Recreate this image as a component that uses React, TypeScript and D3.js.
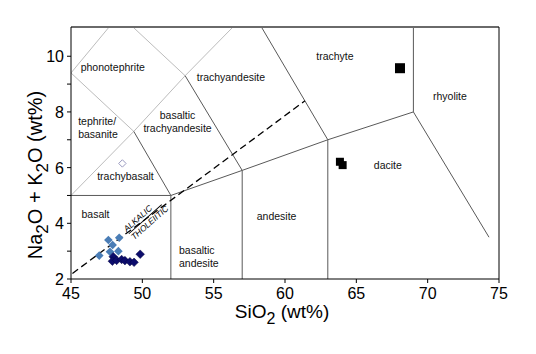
import React from "react";
import * as d3 from "d3";

// TAS field boundaries, [SiO2, Na2O+K2O]
const lightBoundaries: [number, number][][] = [
  [[45, 5], [49.4, 7.3], [53, 9.3], [57.6, 11.7]],
  [[45, 9.4], [49.4, 7.3]],
  [[45, 9.4], [48.4, 11.5]],
  [[48.4, 11.5], [53, 9.3]],
];
const darkBoundaries: [number, number][][] = [
  [[45, 5], [52, 5], [57, 5.9], [63, 7], [69, 8]],
  [[52, 2], [52, 5]],
  [[57, 2], [57, 5.9]],
  [[63, 2], [63, 7]],
  [[49.4, 7.3], [52, 5]],
  [[53, 9.3], [57, 5.9]],
  [[57.6, 11.7], [63, 7]],
  [[69, 8], [69, 12]],
  [[69, 8], [74.3, 3.5]],
];
const alkalicLine: [number, number][] = [[45.1, 2.2], [61.4, 8.4]];

// field names, placed at the centre of their first line
const fieldNames = ["phonotephrite", "tephrite/\nbasanite", "basaltic\ntrachyandesite", "trachyandesite", "trachybasalt", "trachyte", "rhyolite", "dacite", "basalt", "basaltic\nandesite", "andesite"];
const fieldSiO2 = [47.93, 45.5, 52.47, 56.21, 48.82, 63.5, 71.56, 67.21, 46.72, 52.57, 59.41];
const fieldAlk = [9.6, 7.65, 7.89, 9.26, 5.67, 9.98, 8.57, 6.09, 4.33, 3.04, 4.24];
const fieldAnchor = ["middle", "start", "middle", "middle", "middle", "middle", "middle", "middle", "middle", "start", "middle"];

// samples
const lightBlueSiO2 = [47.62, 48.38, 47.92, 46.98, 47.73, 48.32];
const lightBlueAlk = [3.4, 3.48, 3.22, 2.84, 2.98, 3.0];
const navySiO2 = [49.85, 47.96, 47.9, 48.2, 48.55, 48.78, 49.13, 49.42];
const navyAlk = [2.89, 2.8, 2.64, 2.67, 2.7, 2.66, 2.62, 2.6];
const openSiO2 = [48.6];
const openAlk = [6.15];
const squareSiO2 = [68.06, 63.85, 64.04];
const squareAlk = [9.57, 6.21, 6.09];
const squareSize = [10, 8, 8];

const xTicks = [45, 50, 55, 60, 65, 70, 75];
const yTicks = [2, 4, 6, 8, 10];
const yMinorTicks = [3, 5, 7, 9];

const W = 536;
const H = 354;
const font = "'Liberation Sans', Arial, sans-serif";

export default function App() {
  const x = d3.scaleLinear().domain([45, 75]).range([71, 499]);
  const y = d3.scaleLinear().domain([2, 11.05]).range([279, 27]);
  const line = d3.line<[number, number]>().x((d) => x(d[0])).y((d) => y(d[1]));

  const diamond = (cx: number, cy: number, r: number) =>
    `M${cx},${cy - r}L${cx + r},${cy}L${cx},${cy + r}L${cx - r},${cy}Z`;

  // label on the alkalic/tholeiitic divider
  const p0 = [x(alkalicLine[0][0]), y(alkalicLine[0][1])];
  const p1 = [x(alkalicLine[1][0]), y(alkalicLine[1][1])];
  const angle = (Math.atan2(p1[1] - p0[1], p1[0] - p0[0]) * 180) / Math.PI;
  const t = (50.1 - alkalicLine[0][0]) / (alkalicLine[1][0] - alkalicLine[0][0]);
  const ax = p0[0] + t * (p1[0] - p0[0]);
  const ay = p0[1] + t * (p1[1] - p0[1]);

  return (
    <svg width={W} height={H} style={{ position: "absolute", left: 0, top: 0, background: "#fff" }} fontFamily={font}>
      <defs>
        <clipPath id="plot">
          <rect x={x(45)} y={y(11.05)} width={x(75) - x(45)} height={y(2) - y(11.05)} />
        </clipPath>
      </defs>

      <g clipPath="url(#plot)" fill="none">
        {lightBoundaries.map((b, i) => (
          <path key={"l" + i} d={line(b) || ""} stroke="#bcbcbc" strokeWidth={1} />
        ))}
        {darkBoundaries.map((b, i) => (
          <path key={"d" + i} d={line(b) || ""} stroke="#595959" strokeWidth={1} />
        ))}
        <path d={line(alkalicLine) || ""} stroke="#000" strokeWidth={1.3} strokeDasharray="7,4" />
      </g>

      {/* frame */}
      <line x1={x(45)} x2={x(75)} y1={y(11.05)} y2={y(11.05)} stroke="#6a6a6a" strokeWidth={2} />
      <line x1={x(75)} x2={x(75)} y1={y(11.05)} y2={y(2)} stroke="#000" strokeWidth={1} />
      <line x1={x(45)} x2={x(75)} y1={y(2)} y2={y(2)} stroke="#000" strokeWidth={1} />
      <line x1={x(45)} x2={x(45)} y1={y(11.05)} y2={y(2)} stroke="#000" strokeWidth={1} />

      {/* alkalic / tholeiitic */}
      <g transform={`translate(${ax},${ay}) rotate(${angle - 5})`} fontStyle="italic" fontSize={8.5} textAnchor="middle">
        <line x1={-20} x2={24} y1={0} y2={0} stroke="#000" strokeWidth={1} />
        <text x={-3} y={-2.5}>ALKALIC</text>
        <text x={3} y={8.5}>THOLEIITIC</text>
      </g>

      {/* field names */}
      {fieldNames.map((n, i) => (
        <text key={n} x={x(fieldSiO2[i])} y={y(fieldAlk[i])} fontSize={10.5} textAnchor={fieldAnchor[i]} fill="#111">
          {n.split("\n").map((s, j) => (
            <tspan key={j} x={x(fieldSiO2[i])} dy={j === 0 ? "0.35em" : 13}>{s}</tspan>
          ))}
        </text>
      ))}

      {/* samples */}
      {lightBlueSiO2.map((v, i) => (
        <path key={"lb" + i} d={diamond(x(v), y(lightBlueAlk[i]), 4.3)} fill="#4a7db6" />
      ))}
      {navySiO2.map((v, i) => (
        <path key={"nv" + i} d={diamond(x(v), y(navyAlk[i]), 4.3)} fill="#0c0c6c" stroke="#05053f" strokeWidth={0.5} />
      ))}
      {openSiO2.map((v, i) => (
        <path key={"op" + i} d={diamond(x(v), y(openAlk[i]), 3.7)} fill="#fff" stroke="#9a9ac0" strokeWidth={1} />
      ))}
      {squareSiO2.map((v, i) => (
        <rect key={"sq" + i} x={x(v) - squareSize[i] / 2} y={y(squareAlk[i]) - squareSize[i] / 2}
          width={squareSize[i]} height={squareSize[i]} fill="#000" />
      ))}

      {/* axes */}
      {xTicks.map((v) => (
        <g key={"xt" + v}>
          <line x1={x(v)} x2={x(v)} y1={y(2)} y2={y(2) + 4} stroke="#000" />
          <text x={x(v)} y={299} fontSize={16} textAnchor="middle">{v}</text>
        </g>
      ))}
      {yTicks.map((v) => (
        <g key={"yt" + v}>
          <line x1={x(45) - 4} x2={x(45)} y1={y(v)} y2={y(v)} stroke="#000" />
          <text x={64} y={y(v) + 6} fontSize={16} textAnchor="end">{v}</text>
        </g>
      ))}
      {yMinorTicks.map((v) => (
        <line key={"ym" + v} x1={x(45) - 4} x2={x(45)} y1={y(v)} y2={y(v)} stroke="#000" />
      ))}

      <text x={282} y={318} fontSize={19} textAnchor="middle">
        SiO<tspan dy={6} fontSize={16}>2</tspan><tspan dy={-6}> (wt%)</tspan>
      </text>
      <text transform="translate(42,175) rotate(-90)" fontSize={20} textAnchor="middle">
        Na<tspan dy={6} fontSize={17}>2</tspan><tspan dy={-6}>O + K</tspan><tspan dy={6} fontSize={17}>2</tspan><tspan dy={-6}>O (wt%)</tspan>
      </text>
    </svg>
  );
}
